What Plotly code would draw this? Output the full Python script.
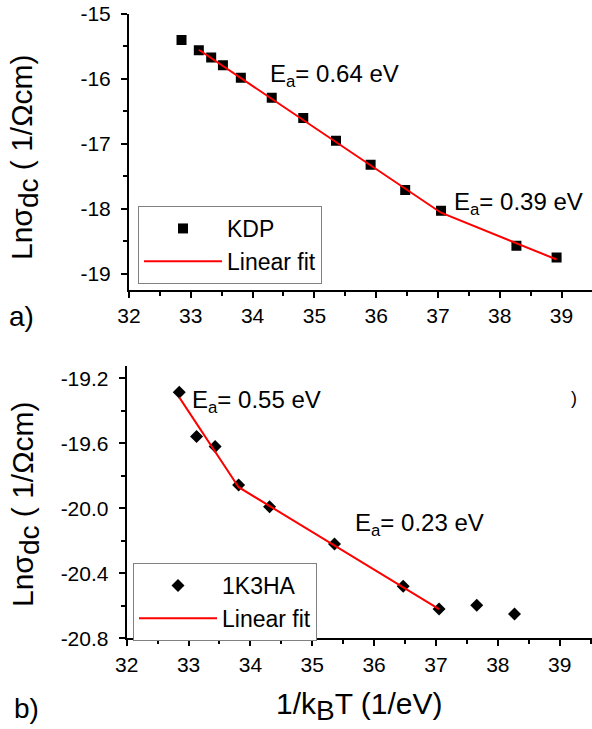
import plotly.graph_objects as go

# (a) KDP
kdp_x = [32.85, 33.13, 33.33, 33.52, 33.81, 34.31, 34.82, 35.35, 35.91, 36.47, 37.05, 38.27, 38.92]
kdp_y = [-15.40, -15.56, -15.67, -15.79, -15.98, -16.29, -16.60, -16.95, -17.32, -17.71, -18.03, -18.57, -18.75]
kdp_fit_x = [33.13, 37.05, 38.92]
kdp_fit_y = [-15.55, -18.06, -18.78]

# (b) 1K3HA
hk_x = [32.85, 33.13, 33.43, 33.81, 34.31, 35.36, 36.47, 37.05, 37.66, 38.27]
hk_y = [-19.286, -19.558, -19.62, -19.857, -19.99, -20.22, -20.48, -20.62, -20.596, -20.65]
hk_fit_x = [32.85, 33.81, 37.05]
hk_fit_y = [-19.317, -19.87, -20.62]

x_ticks = [32, 33, 34, 35, 36, 37, 38, 39]
ya_ticks = [-19, -18, -17, -16, -15]
yb_ticks = [-20.8, -20.4, -20.0, -19.6, -19.2]
ya_labels = ["-19", "-18", "-17", "-16", "-15"]
yb_labels = ["-20.8", "-20.4", "-20.0", "-19.6", "-19.2"]

FONT = "Liberation Sans, Arial, sans-serif"
W, H = 592, 729

fig = go.Figure()

fig.add_trace(go.Scatter(x=kdp_x, y=kdp_y, mode="markers", name="KDP",
                         marker=dict(symbol="square", size=10, color="black"),
                         xaxis="x", yaxis="y", legend="legend"))
fig.add_trace(go.Scatter(x=kdp_fit_x, y=kdp_fit_y, mode="lines", name="Linear fit",
                         line=dict(color="#ff0000", width=2),
                         xaxis="x", yaxis="y", legend="legend"))
fig.add_trace(go.Scatter(x=hk_x, y=hk_y, mode="markers", name="1K3HA",
                         marker=dict(symbol="diamond", size=10, color="black"),
                         xaxis="x2", yaxis="y2", legend="legend2"))
fig.add_trace(go.Scatter(x=hk_fit_x, y=hk_fit_y, mode="lines", name="Linear fit",
                         line=dict(color="#ff0000", width=2),
                         xaxis="x2", yaxis="y2", legend="legend2"))

xa_dom = [129 / W, 591.5 / W]
xb_dom = [126.7 / W, 591.5 / W]
ya_dom = [(H - 290) / H, (H - 14) / H]
yb_dom = [(H - 638.3) / H, (H - 366) / H]
xa_rng = [32, 39.485]
xb_rng = [32, 39.515]
ya_rng = [-19.25, -15]
yb_rng = [-20.8, -19.124]

base = dict(showline=True, linecolor="black", linewidth=2, showgrid=False, zeroline=False,
            automargin=False, tickcolor="black", tickwidth=2, ticklen=6,
            tickfont=dict(family=FONT, size=21, color="black"))


def outer(rng, dom, anchor, vals, text, minor_dt, standoff=0):
    d = dict(base)
    d.update(range=rng, domain=dom, anchor=anchor, ticks="outside",
             tickmode="array", tickvals=vals, ticktext=text,
             ticklabelstandoff=standoff,
             minor=dict(ticks="outside", ticklen=4, tickwidth=2, tickcolor="black",
                        dtick=minor_dt, tick0=vals[0], showgrid=False))
    return d


def inner(rng, dom, anchor, overlay, side, vals, minor_dt):
    d = dict(base)
    d.update(range=rng, domain=dom, anchor=anchor, overlaying=overlay, side=side,
             ticks="inside", ticklen=5, showticklabels=False,
             tickmode="array", tickvals=vals,
             minor=dict(ticks="inside", ticklen=3, tickwidth=2, tickcolor="black",
                        dtick=minor_dt, tick0=vals[0], showgrid=False))
    return d


leg = dict(xanchor="left", yanchor="top", bordercolor="#808080", borderwidth=1,
           bgcolor="white", itemwidth=78, tracegroupgap=0,
           font=dict(family=FONT, size=23, color="black"))

fig.update_layout(
    width=W, height=H,
    paper_bgcolor="white", plot_bgcolor="white",
    margin=dict(l=0, r=0, t=0, b=0, pad=0),
    font=dict(family=FONT, color="black"),
    xaxis=outer(xa_rng, xa_dom, "y", x_ticks, [str(v) for v in x_ticks], 0.5),
    yaxis=outer(ya_rng, ya_dom, "x", ya_ticks, ya_labels, 0.5, 6),
    xaxis2=outer(xb_rng, xb_dom, "y2", x_ticks, [str(v) for v in x_ticks], 0.5),
    yaxis2=outer(yb_rng, yb_dom, "x2", yb_ticks, yb_labels, 0.2, 6),
    xaxis3=inner(xa_rng, xa_dom, "y", "x", "top", x_ticks, 0.5),
    yaxis3=inner(ya_rng, ya_dom, "x", "y", "right", ya_ticks, 0.5),
    xaxis4=inner(xb_rng, xb_dom, "y2", "x2", "top", x_ticks, 0.5),
    yaxis4=inner(yb_rng, yb_dom, "x2", "y2", "right", yb_ticks, 0.2),
    legend=dict(leg, x=138 / W, y=(H - 206) / H),
    legend2=dict(leg, x=133 / W, y=(H - 563) / H),
    showlegend=True,
)

ann_font = dict(family=FONT, size=24, color="black")
notes = [
    ("E<sub>a</sub>= 0.64 eV", 34.25, -15.95, "x", "y"),
    ("E<sub>a</sub>= 0.39 eV", 37.22, -17.92, "x", "y"),
    ("E<sub>a</sub>= 0.55 eV", 33.02, -19.34, "x2", "y2"),
    ("E<sub>a</sub>= 0.23 eV", 35.66, -20.10, "x2", "y2"),
]
for txt, ax, ay, xr, yr in notes:
    fig.add_annotation(text=txt, x=ax, y=ay, xref=xr, yref=yr, xanchor="left",
                       yanchor="middle", showarrow=False, font=ann_font)


def label(txt, px, py, size, angle=0):
    fig.add_annotation(text=txt, x=px / W, y=(H - py) / H, xref="paper", yref="paper",
                       xanchor="center", yanchor="middle", textangle=angle,
                       showarrow=False, font=dict(family=FONT, size=size, color="black"))


# stray bracket fragment at the top right of panel b
label(")", 574, 398, 18)

# subscripts in the original are lowered but kept near full size
ytitle = ("Ln\u03c3<sub><span style='font-size:28px'>dc</span></sub>"
          " ( 1/\u03a9cm)")
label(ytitle, 24, 157, 30, -90)
label(ytitle, 25, 504, 30, -90)
label("1/k<sub><span style='font-size:28px'>B</span></sub>T (1/eV)", 359, 706, 30)
label("a)", 21, 316, 28)
label("b)", 26, 708, 28)

# drop the browser's default 8px body margin so the figure sits at (0, 0)
fig.write_html("out.html", config={"displayModeBar": False},
               post_script="document.body.style.margin='0';")
